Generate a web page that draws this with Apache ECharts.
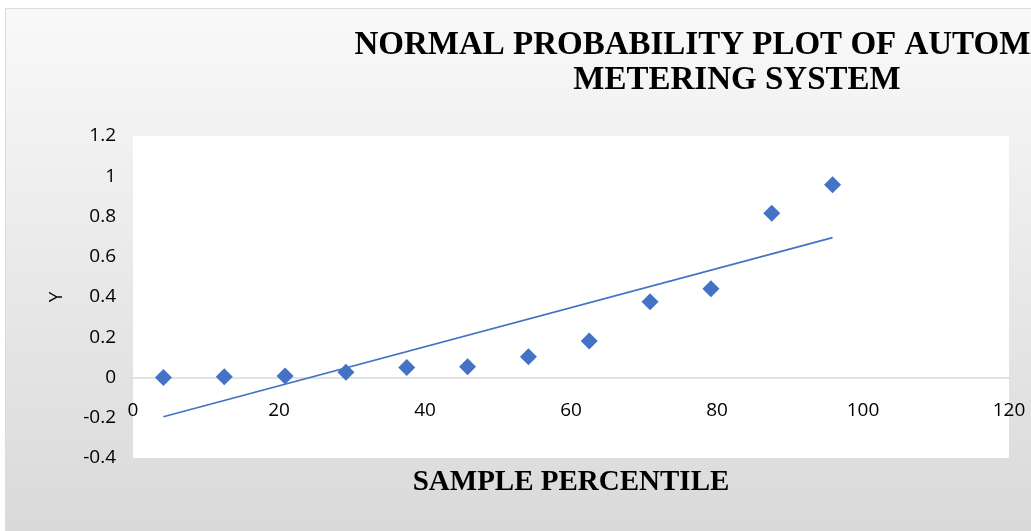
<!DOCTYPE html>
<html>
<head>
<meta charset="utf-8">
<script src="https://cdn.jsdelivr.net/npm/echarts@6/dist/echarts.min.js"></script>
<style>
html,body{margin:0;padding:0;background:#ffffff;}
#chart{width:1031px;height:531px;}
</style>
</head>
<body>
<div id="chart"></div>
<script>
// Sample percentiles (x) and observed values (y)
const percentiles = [4.17, 12.5, 20.83, 29.17, 37.5, 45.83, 54.17, 62.5, 70.83, 79.17, 87.5, 95.83];
const yValues = [0.000, 0.004, 0.007, 0.026, 0.050, 0.054, 0.103, 0.181, 0.377, 0.441, 0.816, 0.958];
// Linear trendline end points
const trendX = [4.17, 95.83];
const trendY = [-0.195, 0.695];
const titleText = 'NORMAL PROBABILITY PLOT OF AUTOMATED\nMETERING SYSTEM';
const xAxisName = 'SAMPLE PERCENTILE';
const yAxisName = 'Y';

const chart = echarts.init(document.getElementById('chart'));
const pts = percentiles.map((x, i) => [x, yValues[i]]);
const trend = trendX.map((x, i) => [x, trendY[i]]);

chart.setOption({
  animation: false,
  graphic: [{
    type: 'rect', z: -10, silent: true,
    shape: {x: 5.5, y: 8.5, width: 1100, height: 600},
    style: {
      fill: new echarts.graphic.LinearGradient(0, 0, 0, 1, [
        {offset: 0, color: '#f9f9f9'},
        {offset: 0.88, color: '#d9d9d9'},
        {offset: 1, color: '#d6d6d6'}
      ]),
      stroke: '#dcdcdc', lineWidth: 1
    }
  }],
  title: {
    text: titleText,
    left: 732,
    top: 23,
    textAlign: 'center',
    textStyle: {
      fontFamily: 'Liberation Serif',
      fontWeight: 'bold',
      fontSize: 33,
      lineHeight: 35,
      color: '#000000'
    }
  },
  grid: {
    left: 133, right: 22, top: 136, bottom: 73,
    outerBoundsMode: 'none',
    containLabel: false,
    show: true, backgroundColor: '#ffffff', borderWidth: 0
  },
  xAxis: {
    type: 'value',
    min: 0, max: 120, interval: 20,
    offset: -80.5,
    name: xAxisName,
    nameLocation: 'middle',
    nameGap: 91,
    nameTextStyle: {
      fontFamily: 'Liberation Serif', fontWeight: 'bold', fontSize: 29, color: '#000000'
    },
    axisLine: {show: true, onZero: false, lineStyle: {color: '#d9d9d9', width: 1.5}},
    axisTick: {show: false},
    splitLine: {show: false},
    axisLabel: {
      margin: 24, fontFamily: 'Open Sans', fontSize: 19, color: '#000000'
    }
  },
  yAxis: {
    type: 'value',
    min: -0.4, max: 1.2, interval: 0.2,
    name: yAxisName,
    nameLocation: 'middle',
    nameGap: 67,
    nameRotate: 90,
    nameTextStyle: {fontFamily: 'Open Sans', fontSize: 19, color: '#000000'},
    axisLine: {show: false},
    axisTick: {show: false},
    splitLine: {show: false},
    axisLabel: {
      margin: 17, fontFamily: 'Open Sans', fontSize: 19, color: '#000000',
      formatter: v => String(Math.round(v * 10) / 10)
    }
  },
  series: [
    {
      type: 'line',
      data: trend,
      showSymbol: false,
      symbol: 'none',
      lineStyle: {color: '#4472c4', width: 1.75},
      z: 2
    },
    {
      type: 'scatter',
      data: pts,
      symbol: 'diamond',
      symbolSize: 17,
      itemStyle: {color: '#4472c4', opacity: 1},
      z: 3
    }
  ]
});
</script>
</body>
</html>
